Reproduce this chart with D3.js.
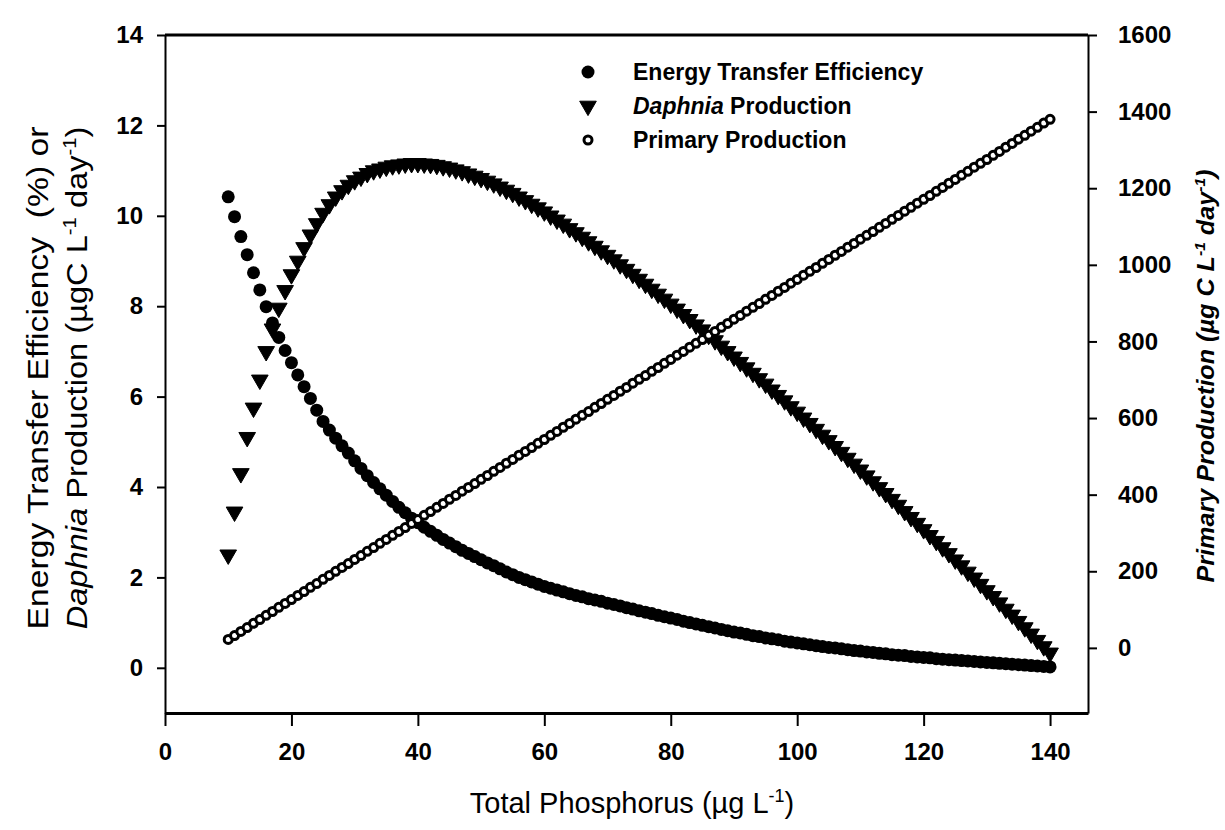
<!DOCTYPE html>
<html>
<head>
<meta charset="utf-8">
<script src="https://cdn.jsdelivr.net/npm/d3@7"></script>
<style>
body { margin: 0; background: #fff; }
text { font-family: "Liberation Sans", Arial, sans-serif; fill: #000; }
</style>
</head>
<body>
<div id="chart"></div>
<script>
// Total phosphorus (ug/L), one model point per unit
var tp = [10,11,12,13,14,15,16,17,18,19,
  20,21,22,23,24,25,26,27,28,29,
  30,31,32,33,34,35,36,37,38,39,
  40,41,42,43,44,45,46,47,48,49,
  50,51,52,53,54,55,56,57,58,59,
  60,61,62,63,64,65,66,67,68,69,
  70,71,72,73,74,75,76,77,78,79,
  80,81,82,83,84,85,86,87,88,89,
  90,91,92,93,94,95,96,97,98,99,
  100,101,102,103,104,105,106,107,108,109,
  110,111,112,113,114,115,116,117,118,119,
  120,121,122,123,124,125,126,127,128,129,
  130,131,132,133,134,135,136,137,138,139,
  140];

// Energy transfer efficiency (%) - left axis
var efficiency = [10.42,9.98,9.54,9.14,8.74,8.36,7.99,7.63,7.31,7.02,
  6.75,6.48,6.22,5.96,5.70,5.45,5.26,5.08,4.91,4.75,
  4.58,4.41,4.25,4.10,3.96,3.82,3.68,3.55,3.43,3.31,
  3.21,3.11,3.02,2.93,2.84,2.76,2.68,2.60,2.53,2.46,
  2.39,2.32,2.26,2.19,2.12,2.06,2.00,1.95,1.90,1.85,
  1.80,1.76,1.72,1.68,1.64,1.60,1.57,1.53,1.50,1.47,
  1.43,1.40,1.37,1.33,1.30,1.26,1.23,1.20,1.16,1.13,
  1.10,1.07,1.03,1.00,0.97,0.94,0.91,0.88,0.85,0.82,
  0.79,0.77,0.74,0.71,0.69,0.66,0.64,0.62,0.59,0.57,
  0.55,0.53,0.51,0.49,0.47,0.45,0.44,0.42,0.40,0.38,
  0.37,0.35,0.34,0.32,0.31,0.29,0.28,0.27,0.25,0.24,
  0.23,0.22,0.20,0.19,0.18,0.17,0.16,0.15,0.14,0.13,
  0.12,0.11,0.10,0.09,0.08,0.07,0.06,0.05,0.04,0.03,
  0.02];

// Daphnia production (ugC/L/day) - left axis
var daphnia = [2.50,3.45,4.30,5.10,5.75,6.37,7.00,7.50,7.96,8.35,
  8.70,9.00,9.30,9.58,9.83,10.06,10.25,10.42,10.56,10.68,
  10.78,10.86,10.94,11.00,11.04,11.08,11.11,11.13,11.15,11.16,
  11.16,11.15,11.14,11.12,11.09,11.06,11.02,10.98,10.93,10.88,
  10.83,10.77,10.71,10.64,10.57,10.50,10.42,10.34,10.26,10.18,
  10.09,10.00,9.91,9.82,9.72,9.63,9.53,9.43,9.33,9.23,
  9.13,9.03,8.92,8.82,8.71,8.60,8.49,8.38,8.27,8.16,
  8.05,7.94,7.82,7.71,7.59,7.48,7.36,7.24,7.12,7.00,
  6.88,6.76,6.64,6.52,6.40,6.28,6.15,6.03,5.91,5.78,
  5.66,5.53,5.41,5.28,5.15,5.03,4.90,4.77,4.64,4.51,
  4.38,4.25,4.12,3.99,3.86,3.73,3.60,3.46,3.33,3.20,
  3.06,2.93,2.80,2.66,2.53,2.39,2.26,2.12,1.99,1.85,
  1.71,1.58,1.44,1.30,1.17,1.03,0.89,0.75,0.61,0.47,
  0.33];

// Primary production (ug C/L/day) - right axis
var primary = [22,32,43,53,64,74,85,95,106,116,
  126,137,147,158,168,179,189,200,210,220,
  231,241,252,262,273,283,294,304,314,325,
  335,346,356,367,377,388,398,409,419,429,
  440,450,461,471,482,492,503,513,523,534,
  544,555,565,576,586,597,607,617,628,638,
  649,659,670,680,691,701,711,722,732,743,
  753,764,774,785,795,805,816,826,837,847,
  858,868,879,889,899,910,920,931,941,952,
  962,973,983,993,1004,1014,1025,1035,1046,1056,
  1067,1077,1087,1098,1108,1119,1129,1140,1150,1161,
  1171,1181,1192,1202,1213,1223,1234,1244,1255,1265,
  1275,1286,1296,1307,1317,1328,1338,1349,1359,1370,
  1380];

var xTicks = [0, 20, 40, 60, 80, 100, 120, 140];
var leftTicks = [0, 2, 4, 6, 8, 10, 12, 14];
var rightTicks = [0, 200, 400, 600, 800, 1000, 1200, 1400, 1600];

var width = 1225;
var height = 830;

var svg = d3.select("#chart")
    .append("svg")
    .attr("width", width)
    .attr("height", height);

var x = d3.scaleLinear().domain([0, 146]).range([165, 1088]);
var yLeft = d3.scaleLinear().domain([-1, 14]).range([713, 35]);
var yRight = d3.scaleLinear().domain([-170, 1600]).range([713, 35]);

// axes
function styleAxis(g) {
  g.selectAll("path, line").attr("stroke", "#000").attr("stroke-width", 2);
  g.selectAll("text")
    .attr("fill", "#000")
    .style("font-family", "'Liberation Sans', Arial, sans-serif")
    .style("font-size", "24px")
    .style("font-weight", "bold");
}

var gx = svg.append("g")
    .attr("transform", "translate(0,713)")
    .call(d3.axisBottom(x).tickValues(xTicks).tickSize(13).tickPadding(17).tickSizeOuter(0))
    .call(styleAxis);
gx.select(".domain").attr("stroke-width", 3);

svg.append("g")
    .attr("transform", "translate(165,0)")
    .call(d3.axisLeft(yLeft).tickValues(leftTicks).tickSize(8).tickPadding(14).tickSizeOuter(0))
    .call(styleAxis);

svg.append("g")
    .attr("transform", "translate(1088,0)")
    .call(d3.axisRight(yRight).tickValues(rightTicks).tickFormat(d3.format("d"))
      .tickSize(9).tickPadding(21).tickSizeOuter(0))
    .call(styleAxis);

// top frame line
svg.append("line")
    .attr("x1", x.range()[0]).attr("x2", x.range()[1])
    .attr("y1", yLeft(14)).attr("y2", yLeft(14))
    .attr("stroke", "#000").attr("stroke-width", 3);

// series
var rows = tp.map(function(d, i) {
  return { tp: d, eff: efficiency[i], daph: daphnia[i], pp: primary[i] };
});

var triangle = d3.symbol().type(d3.symbolTriangle).size(120);

svg.append("g").selectAll("circle")
  .data(rows).enter()
  .append("circle")
  .attr("cx", function(d) { return x(d.tp); })
  .attr("cy", function(d) { return yLeft(d.eff); })
  .attr("r", 6.5)
  .attr("fill", "#000");

svg.append("g").selectAll("path")
  .data(rows).enter()
  .append("path")
  .attr("d", triangle)
  .attr("transform", function(d) {
    return "translate(" + x(d.tp) + "," + yLeft(d.daph) + ") rotate(180)";
  })
  .attr("fill", "#000")
  .attr("stroke", "#000")
  .attr("stroke-width", 1)
  .attr("stroke-linejoin", "round");

svg.append("g").selectAll("circle")
  .data(rows).enter()
  .append("circle")
  .attr("cx", function(d) { return x(d.tp); })
  .attr("cy", function(d) { return yRight(d.pp); })
  .attr("r", 4)
  .attr("fill", "#fff")
  .attr("stroke", "#000")
  .attr("stroke-width", 3);

// legend
var legend = svg.append("g").attr("transform", "translate(588,72)");
legend.append("circle").attr("cx", 0).attr("cy", 0).attr("r", 6.5).attr("fill", "#000");
legend.append("path").attr("d", triangle).attr("transform", "translate(0,34) rotate(180)")
  .attr("fill", "#000").attr("stroke", "#000").attr("stroke-width", 1).attr("stroke-linejoin", "round");
legend.append("circle").attr("cx", 0).attr("cy", 68).attr("r", 4)
  .attr("fill", "#fff").attr("stroke", "#000").attr("stroke-width", 3);

var lt = legend.append("g")
    .style("font-size", "23px")
    .style("font-weight", "bold");
lt.append("text").attr("x", 45).attr("y", 8).text("Energy Transfer Efficiency");
var l2 = lt.append("text").attr("x", 45).attr("y", 42);
l2.append("tspan").style("font-style", "italic").text("Daphnia");
l2.append("tspan").text(" Production");
lt.append("text").attr("x", 45).attr("y", 76).text("Primary Production");

// superscript helper
function sup(t, s, big) {
  t.append("tspan").attr("dy", -big * 0.38).style("font-size", (big * 0.62) + "px").text(s);
}
function back(t, s, big) {
  t.append("tspan").attr("dy", big * 0.38).style("font-size", big + "px").text(s);
}

// x title
var xt = svg.append("text")
    .attr("x", 632).attr("y", 813)
    .attr("text-anchor", "middle")
    .style("font-size", "29px");
xt.append("tspan").text("Total Phosphorus (\u00b5g L");
sup(xt, "-1", 29);
back(xt, ")", 29);

function stretch(text, target) {
  var len = text.node().getComputedTextLength();
  text.attr("transform", "scale(" + (target / len) + ",1)");
}

// left title (two lines)
var yl1 = svg.append("g").attr("transform", "translate(48,378) rotate(-90)")
  .append("text").attr("text-anchor", "middle").style("font-size", "29px")
  .text("Energy Transfer Efficiency\u00a0 (%) or");
stretch(yl1, 503);

var yl2 = svg.append("g").attr("transform", "translate(87,378) rotate(-90)")
  .append("text").attr("text-anchor", "middle").style("font-size", "29px");
yl2.append("tspan").style("font-style", "italic").text("Daphnia");
yl2.append("tspan").text(" Production (\u00b5gC L");
sup(yl2, "-1", 29);
back(yl2, " day", 29);
sup(yl2, "-1", 29);
back(yl2, ")", 29);
stretch(yl2, 503);

// right title
var yr = svg.append("g").attr("transform", "translate(1214,376) rotate(-90)")
  .append("text").attr("text-anchor", "middle")
  .style("font-size", "23px").style("font-weight", "bold").style("font-style", "italic");
yr.append("tspan").text("Primary Production (\u00b5g C L");
sup(yr, "-1", 23);
back(yr, " day", 23);
sup(yr, "-1", 23);
back(yr, ")", 23);
stretch(yr, 413);
</script>
</body>
</html>
